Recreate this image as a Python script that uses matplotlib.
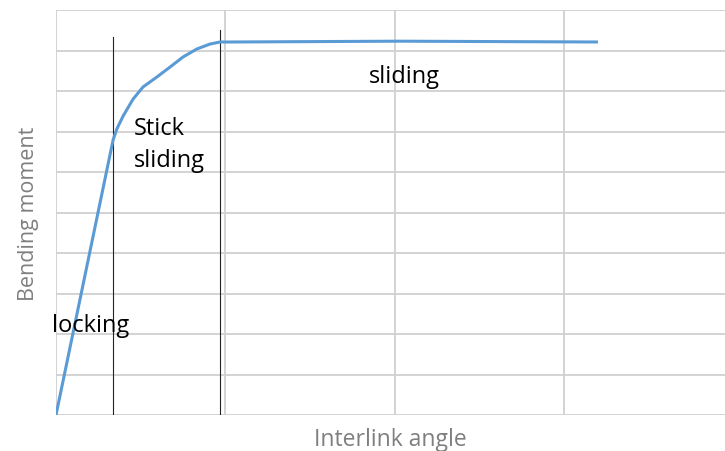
import matplotlib
matplotlib.use("Agg")
import matplotlib.pyplot as plt

# curve (grid units)
angle = [0.0, 0.337, 0.359, 0.396, 0.455, 0.514, 0.597, 0.673, 0.750,
         0.833, 0.910, 0.969, 1.03, 2.03, 3.2]
moment = [0.0, 6.79, 7.06, 7.38, 7.80, 8.10, 8.35, 8.59, 8.84,
          9.04, 9.16, 9.21, 9.21, 9.23, 9.21]

# region boundaries: x position, top of line
bound_x = [0.337, 0.97]
bound_top = [9.33, 9.51]

# region labels
labels = ["locking", "Stick\nsliding", "sliding"]
label_x = [-0.025, 0.46, 1.85]
label_y = [2.22, 6.69, 8.37]

plt.rcParams['font.family'] = ['Open Sans', 'DejaVu Sans']

fig = plt.figure(figsize=(7.25, 4.52), dpi=100)
ax = fig.add_axes([56 / 725, 36 / 452, 1 - 56 / 725, 405 / 452])

ax.plot(angle, moment, color="#5B9BD5", lw=2.2, solid_capstyle="butt",
        solid_joinstyle="round", zorder=3)
for bx, bt in zip(bound_x, bound_top):
    ax.plot([bx, bx], [0, bt], color="#222222", lw=0.8, zorder=2)

for t, lx, ly in zip(labels, label_x, label_y):
    ax.text(lx, ly, t, fontsize=17, color="black", ha="left", va="center",
            linespacing=1.4, zorder=4)

ax.set_xlim(0, 3.95)
ax.set_ylim(0, 10)
ax.set_xticks([0, 1, 2, 3])
ax.set_yticks(range(11))
ax.grid(True, color="#d0d0d0", lw=1.3)
ax.tick_params(length=0, labelbottom=False, labelleft=False)
for s in ax.spines.values():
    s.set_visible(False)

ax.set_xlabel("Interlink angle", color="#7f7f7f", fontsize=16.5, labelpad=9)
ax.set_ylabel("Bending moment", color="#7f7f7f", fontsize=15.5, labelpad=12)

fig.savefig("out.png", dpi=100)
